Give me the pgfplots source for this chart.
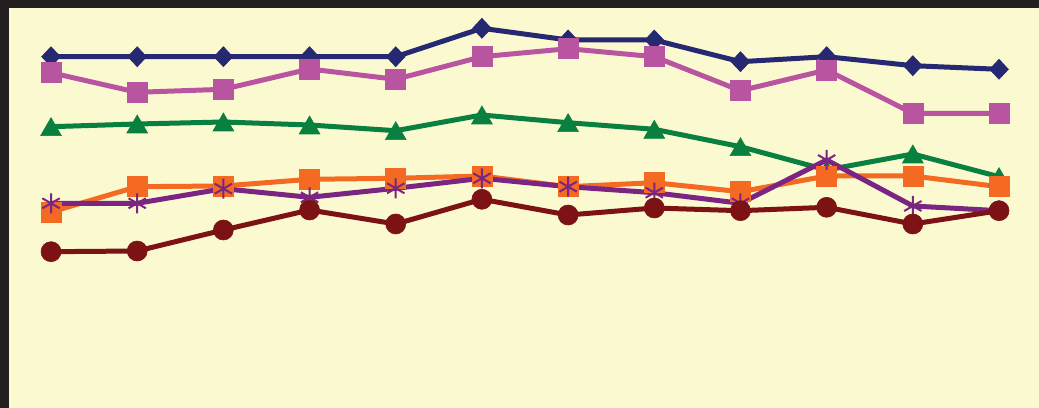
\documentclass[border=0pt]{standalone}
\usepackage{pgfplots}
\pgfplotsset{compat=1.18}

\definecolor{bgyellow}{HTML}{FBF9D0}
\definecolor{framedark}{HTML}{231F20}
\definecolor{navy}{HTML}{262872}
\definecolor{pinkish}{HTML}{B955A0}
\definecolor{leaf}{HTML}{0A8040}
\definecolor{tangerine}{HTML}{F46A22}
\definecolor{plum}{HTML}{7B2583}
\definecolor{maroon}{HTML}{7C1214}

\begin{document}
\begin{tikzpicture}
	\begin{axis}[
	scale only axis,
	width=519.5bp, height=204bp,
	hide axis,
	xmin=0.408, xmax=12.464,
	ymin=0, ymax=408,
	every axis plot/.append style={line width=2.5bp},
	]
	% background and frame
	\fill[bgyellow] (axis cs:0.408,0) rectangle (axis cs:12.464,408);
	\fill[framedark] (axis cs:0.408,400) rectangle (axis cs:12.464,408);
	\fill[framedark] (axis cs:0.408,0) rectangle (axis cs:0.513,408);

	\addplot[color=navy, mark=diamond*, mark size=5bp,
		mark options={solid, xscale=1.25, line width=0.3bp}]
		coordinates {
(1,351.3) (2,351.3) (3,351.3) (4,351.3) (5,351.3) (6,379.7)
(7,368) (8,368) (9,346.3) (10,351.3) (11,342.3) (12,338.7)
		};

	\addplot[color=pinkish, mark=square*, mark size=5bp,
		mark options={solid, line width=0.3bp}]
		coordinates {
(1,335.3) (2,315.7) (3,318.7) (4,339) (5,328.7) (6,351.3)
(7,359.3) (8,351.3) (9,317.3) (10,338) (11,294.7) (12,294.7)
		};

	\addplot[color=leaf, mark=triangle*, mark size=6bp,
		mark options={solid, yshift=-1.5bp, line width=0.3bp}]
		coordinates {
(1,281.3) (2,284) (3,286) (4,283) (5,277.3) (6,293)
(7,285.3) (8,278.7) (9,261.3) (10,238) (11,254) (12,231.3)
		};

	\addplot[color=tangerine, mark=square*, mark size=5bp,
		mark options={solid, line width=0.3bp}]
		coordinates {
(1,196) (2,221.3) (3,222) (4,228.7) (5,229.7) (6,232)
(7,221.3) (8,225.3) (9,216.3) (10,232) (11,232) (12,221.3)
		};

	\addplot[color=plum, mark=asterisk, mark size=5bp,
		mark options={solid, line width=1bp}]
		coordinates {
(1,204.7) (2,204.7) (3,219.3) (4,210.7) (5,219.7) (6,229.7)
(7,221.3) (8,215.3) (9,204.7) (10,248) (11,202) (12,197.3)
		};

	\addplot[color=maroon, mark=*, mark size=5bp,
		mark options={solid, line width=0.3bp}]
		coordinates {
(1,156.3) (2,157) (3,178) (4,198) (5,184) (6,208.7)
(7,193) (8,200) (9,197.3) (10,200.7) (11,184) (12,197.3)
		};
	\end{axis}
	\pgfresetboundingbox
	\useasboundingbox (0,0) rectangle (519.5bp,204bp);
\end{tikzpicture}
\end{document}
